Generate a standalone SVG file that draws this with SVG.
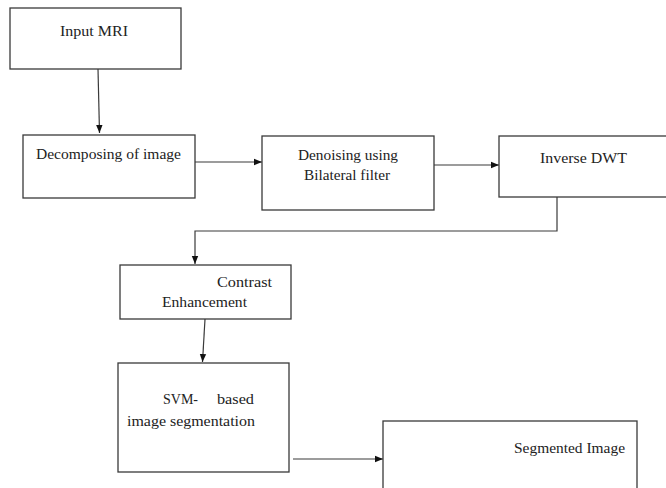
<svg xmlns="http://www.w3.org/2000/svg" width="666" height="488" viewBox="0 0 666 488">
<style>
.box{fill:#fff;stroke:#3a3a3a;stroke-width:1.3}
.t{font-family:'Liberation Serif','DejaVu Serif','Times New Roman',serif;font-size:14.5px;fill:#222}
.c{fill:none;stroke:#3a3a3a;stroke-width:1.2}
</style>
<defs>
<marker id="ah" markerWidth="8" markerHeight="8" refX="8" refY="4" orient="auto" markerUnits="userSpaceOnUse">
<path d="M0,0.8 L8,4 L0,7.2 Z" fill="#111"/>
</marker>
</defs>
<rect width="666" height="488" fill="#fff"/>
<g id="connectors">
<path class="c" d="M98,69 L99.5,133" marker-end="url(#ah)"/>
<path class="c" d="M195,162 L262,162" marker-end="url(#ah)"/>
<path class="c" d="M434,165 L499,165" marker-end="url(#ah)"/>
<path class="c" d="M557,197 L557,231 L195,231 L195,264" marker-end="url(#ah)"/>
<path class="c" d="M205,319 L202.5,362" marker-end="url(#ah)"/>
<path class="c" d="M293,459 L383,459" marker-end="url(#ah)"/>
</g>
<g id="n1"><rect class="box" x="10" y="8" width="171" height="61"/><text class="t" x="60" y="36" textLength="68" lengthAdjust="spacingAndGlyphs">Input MRI</text></g>
<g id="n2"><rect class="box" x="23" y="135" width="172" height="63"/><text class="t" x="36" y="159" textLength="145" lengthAdjust="spacingAndGlyphs">Decomposing of image</text></g>
<g id="n3"><rect class="box" x="262" y="136" width="172" height="74"/><text class="t" x="298" y="160" textLength="100" lengthAdjust="spacingAndGlyphs">Denoising using</text><text class="t" x="304" y="180" textLength="86" lengthAdjust="spacingAndGlyphs">Bilateral filter</text></g>
<g id="n4"><rect class="box" x="499" y="136" width="180" height="61"/><text class="t" x="540" y="163" textLength="87" lengthAdjust="spacingAndGlyphs">Inverse DWT</text></g>
<g id="n5"><rect class="box" x="120" y="265" width="171" height="54"/><text class="t" x="217" y="287" textLength="55" lengthAdjust="spacingAndGlyphs">Contrast</text><text class="t" x="162" y="307" textLength="85" lengthAdjust="spacingAndGlyphs">Enhancement</text></g>
<g id="n6"><rect class="box" x="118" y="363" width="171" height="109"/><text class="t" x="163" y="404" textLength="35" lengthAdjust="spacingAndGlyphs">SVM-</text><text class="t" x="217" y="404" textLength="37" lengthAdjust="spacingAndGlyphs">based</text><text class="t" x="127" y="426" textLength="128" lengthAdjust="spacingAndGlyphs">image segmentation</text></g>
<g id="n7"><rect class="box" x="383" y="421" width="254" height="80"/><text class="t" x="514" y="453" textLength="111" lengthAdjust="spacingAndGlyphs">Segmented Image</text></g>
</svg>
